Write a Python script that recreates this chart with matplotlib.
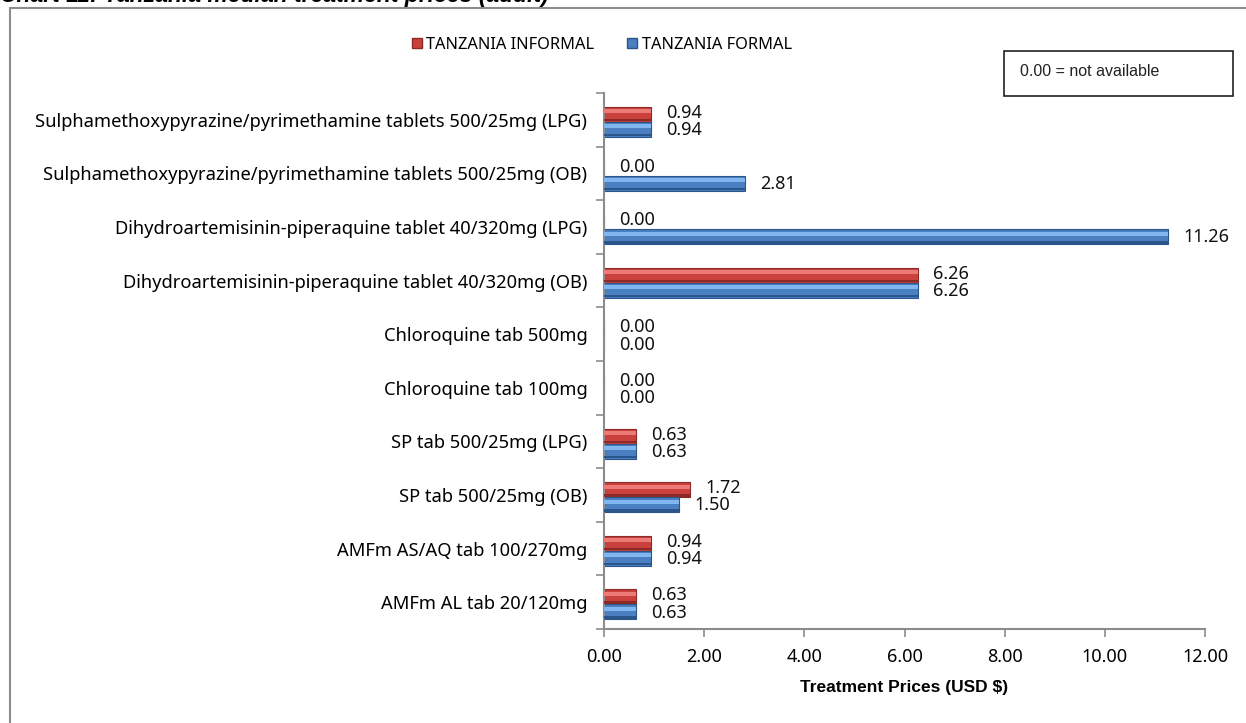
import matplotlib
matplotlib.use("Agg")
import matplotlib.pyplot as plt
import matplotlib.patches as mpatches
import numpy as np

plt.rcParams["font.family"] = ["Noto Sans", "DejaVu Sans"]
BOLD_FONT = ["Liberation Sans", "DejaVu Sans"]

# bottom -> top, as drawn
categories = [
    "AMFm AL tab 20/120mg",
    "AMFm AS/AQ tab 100/270mg",
    "SP tab 500/25mg (OB)",
    "SP tab 500/25mg (LPG)",
    "Chloroquine tab 100mg",
    "Chloroquine tab 500mg",
    "Dihydroartemisinin-piperaquine tablet 40/320mg (OB)",
    "Dihydroartemisinin-piperaquine tablet 40/320mg (LPG)",
    "Sulphamethoxypyrazine/pyrimethamine tablets 500/25mg (OB)",
    "Sulphamethoxypyrazine/pyrimethamine tablets 500/25mg (LPG)",
]
informal = [0.63, 0.94, 1.72, 0.63, 0.00, 0.00, 6.26, 0.00, 0.00, 0.94]
formal = [0.63, 0.94, 1.50, 0.63, 0.00, 0.00, 6.26, 11.26, 2.81, 0.94]
series_names = ["TANZANIA INFORMAL", "TANZANIA FORMAL"]
x_ticks = [0, 2, 4, 6, 8, 10, 12]

RED = ("#ec7a76", "#c9403c", "#8c2a28")   # light, main, dark
BLUE = ("#82b6ee", "#4a7fc1", "#2b568c")

W, H = 1246, 723
fig = plt.figure(figsize=(W / 100, H / 100), dpi=100)
ax = fig.add_axes([604 / W, 1 - 629 / H, 601 / W, 536 / H])

y = np.arange(len(categories))
bh = 0.28
shift = -0.04


def bevel_bar(ypos, vals, cols):
    light, main, dark = cols
    # body, then a light upper band and a darker lower edge for the Excel bevel look
    ax.barh(ypos, vals, height=bh, color=main, edgecolor=dark, linewidth=0.8, zorder=2)
    ax.barh(ypos + bh * 0.2, vals, height=bh * 0.26, color=light, linewidth=0, zorder=3)
    ax.barh(ypos - bh * 0.38, vals, height=bh * 0.16, color=dark, linewidth=0, zorder=3)


bevel_bar(y + shift + bh / 2, informal, RED)
bevel_bar(y + shift - bh / 2, formal, BLUE)

for i in range(len(categories)):
    ax.annotate(f"{informal[i]:.2f}", (informal[i], y[i] + shift + bh / 2),
                xytext=(11, 1), textcoords="offset points",
                va="center", ha="left", fontsize=13, color="#111111")
    ax.annotate(f"{formal[i]:.2f}", (formal[i], y[i] + shift - bh / 2),
                xytext=(11, -0.5), textcoords="offset points",
                va="center", ha="left", fontsize=13, color="#111111")

ax.set_xlim(0, 12)
ax.set_ylim(-0.5, len(categories) - 0.5)
ax.set_xticks(x_ticks)
ax.set_xticklabels([f"{t:.2f}" for t in x_ticks], fontsize=13)
ax.set_yticks(y)
ax.set_yticklabels(categories, fontsize=13.2)
ax.set_yticks(np.arange(len(categories) + 1) - 0.5, minor=True)
ax.tick_params(axis="y", which="major", length=0, pad=12)
ax.tick_params(axis="y", which="minor", length=6, width=1.2, color="#8c8c8c")
ax.tick_params(axis="x", length=6, width=1.2, color="#8c8c8c", pad=8)
for s in ["top", "right"]:
    ax.spines[s].set_visible(False)
for s in ["left", "bottom"]:
    ax.spines[s].set_color("#8c8c8c")
    ax.spines[s].set_linewidth(1.5)
ax.set_xlabel("Treatment Prices (USD $)", fontsize=12.5, fontweight="bold",
              family=BOLD_FONT, labelpad=10)

handles = [mpatches.Patch(facecolor=RED[1], edgecolor=RED[2], label=series_names[0]),
           mpatches.Patch(facecolor=BLUE[1], edgecolor=BLUE[2], label=series_names[1])]
fig.legend(handles=handles, loc="center", bbox_to_anchor=(602 / W, 1 - 45 / H), ncol=2,
           frameon=False, fontsize=11.8, handlelength=0.6, handleheight=0.6,
           handletextpad=0.3, columnspacing=2.0)

# note box
fig.patches.append(mpatches.Rectangle((1004 / W, 1 - 96 / H), 229 / W, 45 / H,
                                      transform=fig.transFigure, fill=False,
                                      edgecolor="#222222", linewidth=1.2))
fig.text(1020 / W, 1 - 72 / H, "0.00 = not available", fontsize=11.5,
         family=["Liberation Sans", "DejaVu Sans"], va="center", ha="left", color="#222222")

# outer chart frame (runs off the right and bottom of the crop)
fig.patches.append(mpatches.Rectangle((10 / W, -0.05), 1.1, 1 - 8 / H + 0.05,
                                      transform=fig.transFigure, fill=False,
                                      edgecolor="#8c8c8c", linewidth=1.5))

# chart caption, mostly cropped off the top
fig.text(0, 1 - 2 / H, "Chart 11: Tanzania median treatment prices (adult)",
         fontsize=16.5, fontweight="bold", fontstyle="italic", family=BOLD_FONT,
         va="baseline", ha="left")

fig.savefig("out.png", dpi=100)
